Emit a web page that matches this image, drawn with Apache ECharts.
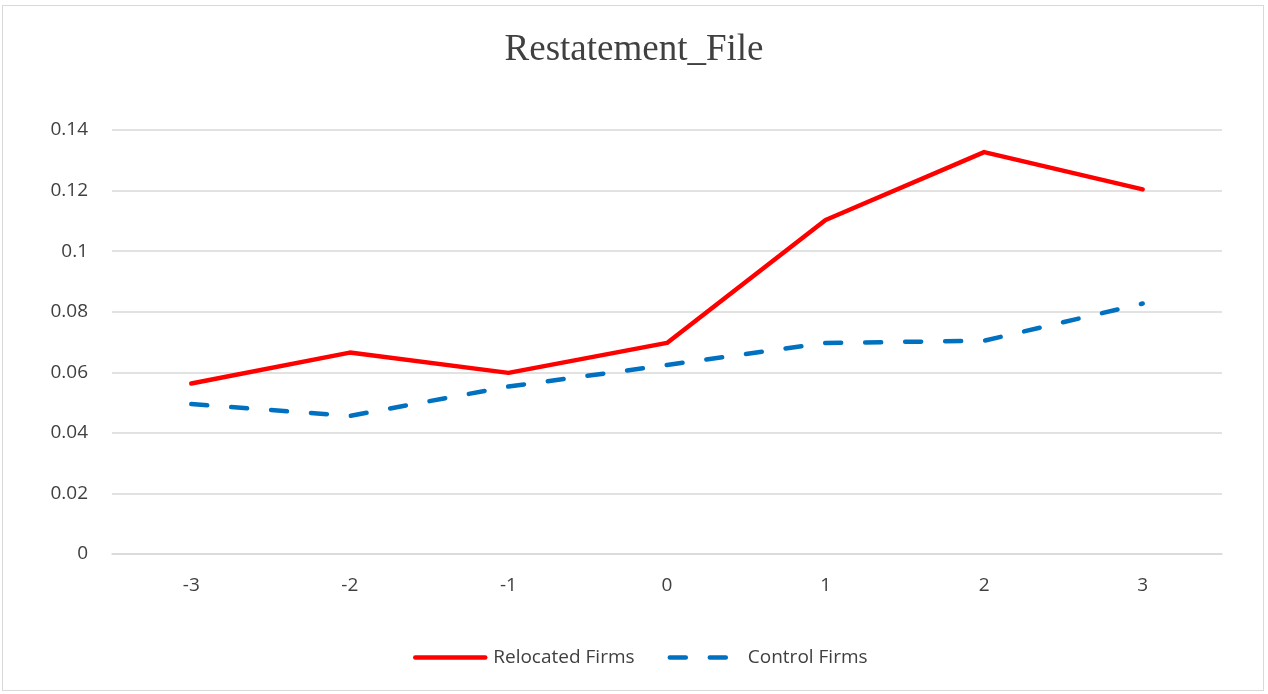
<!DOCTYPE html>
<html>
<head>
<meta charset="utf-8">
<script src="https://cdn.jsdelivr.net/npm/echarts@6/dist/echarts.min.js"></script>
<style>
  html, body { margin: 0; padding: 0; background: #fff; }
  #frame { position: absolute; left: 2px; top: 5px; width: 1262px; height: 686px; box-sizing: border-box; border: 1px solid #d9d9d9; }
  #chart { position: absolute; left: 0; top: 0; width: 1268px; height: 694px; }
</style>
</head>
<body>
<div id="frame"></div>
<div id="chart"></div>
<script>
// Event-time years relative to relocation
const years = ['-3', '-2', '-1', '0', '1', '2', '3'];
// Restatement filing rates
const relocatedFirms = [0.0563, 0.0665, 0.0598, 0.0697, 0.1103, 0.1327, 0.1204];
const controlFirms = [0.0495, 0.0456, 0.0553, 0.0624, 0.0697, 0.0704, 0.0827];
const yTicks = [0, 0.02, 0.04, 0.06, 0.08, 0.1, 0.12, 0.14];

const chart = echarts.init(document.getElementById('chart'), null, { renderer: 'canvas' });
chart.setOption({
  animation: false,
  backgroundColor: 'transparent',
  title: {
    text: 'Restatement_File',
    left: 'center',
    top: 27,
    textStyle: { fontFamily: 'Liberation Serif', fontWeight: 'normal', fontSize: 37, color: '#404040' }
  },
  grid: { left: 112, right: 46, top: 130, bottom: 140 },
  legend: {
    bottom: 22,
    left: 408,
    itemWidth: 70,
    itemHeight: 14,
    itemGap: 33,
    padding: 5,
    itemStyle: { opacity: 0 },
    lineStyle: { width: 4.5, cap: 'round' },
    textStyle: { fontFamily: 'Open Sans', fontSize: 19, color: '#404040', padding: [0, 0, 0, 3] },
    data: ['Relocated Firms', 'Control Firms']
  },
  xAxis: {
    type: 'category',
    data: years,
    boundaryGap: true,
    axisLine: { show: true, lineStyle: { color: '#d9d9d9', width: 1.5 } },
    axisTick: { show: false },
    axisLabel: { fontFamily: 'Open Sans', fontSize: 19, color: '#404040', margin: 22 }
  },
  yAxis: {
    type: 'value',
    min: 0,
    max: 0.14,
    interval: 0.02,
    axisLine: { show: false },
    axisTick: { show: false },
    splitLine: { lineStyle: { color: '#d9d9d9', width: 1.5 } },
    axisLabel: {
      fontFamily: 'Open Sans', fontSize: 19, color: '#404040', margin: 24,
      formatter: v => {
        const t = yTicks.find(x => Math.abs(x - v) < 1e-9);
        return String(+(t !== undefined ? t : v).toFixed(2));
      }
    }
  },
  series: [
    {
      name: 'Relocated Firms',
      type: 'line',
      data: relocatedFirms,
      symbol: 'none',
      color: '#ff0000',
      lineStyle: { color: '#ff0000', width: 4.5, cap: 'round', join: 'round' }
    },
    {
      name: 'Control Firms',
      type: 'line',
      data: controlFirms,
      symbol: 'none',
      color: '#0070c0',
      lineStyle: { color: '#0070c0', width: 4.5, type: [16, 24], cap: 'round', join: 'round' }
    }
  ]
});
</script>
</body>
</html>
